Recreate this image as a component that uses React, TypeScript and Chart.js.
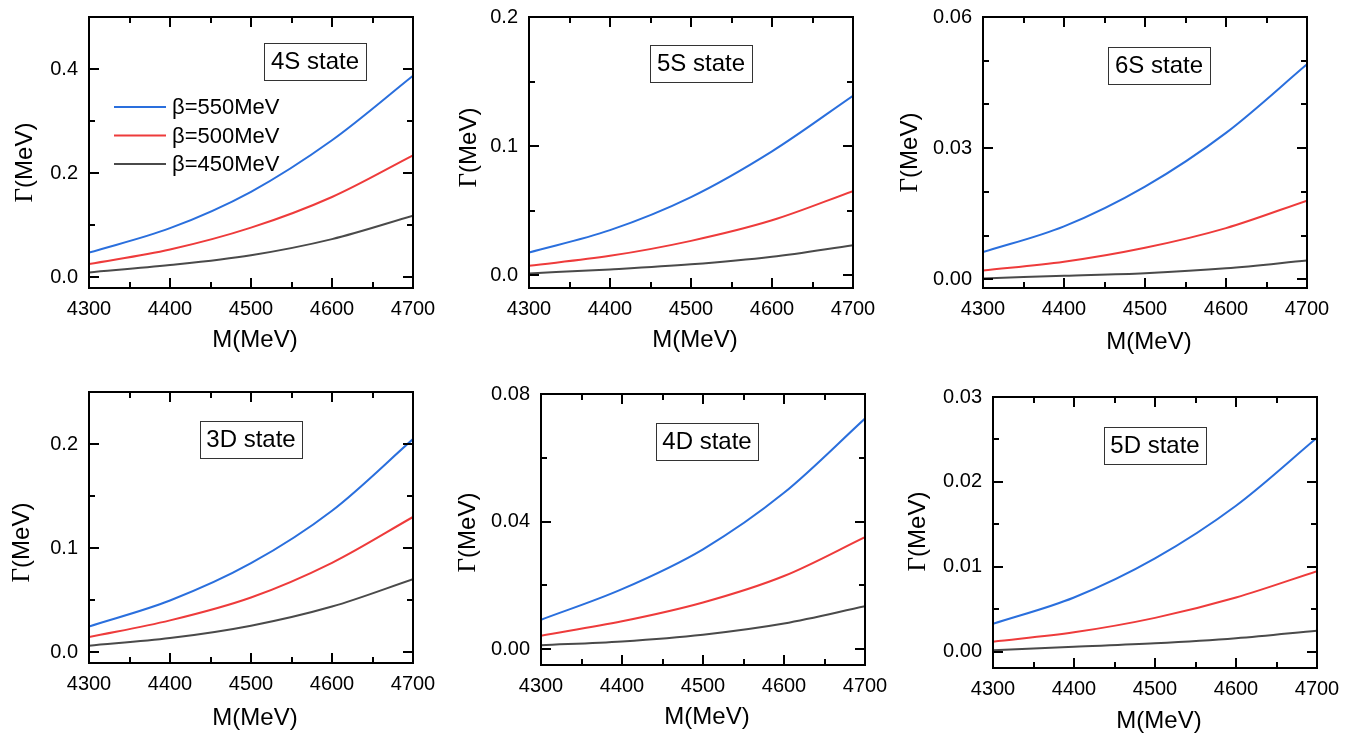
import React, { useEffect, useRef } from "react";
import { Chart, registerables } from "chart.js";

Chart.register(...registerables);

// ---------- data ----------
const masses = [4300, 4400, 4500, 4600, 4700];
const seriesLabels = ["β=550MeV", "β=500MeV", "β=450MeV"];
const stateLabels = ["4S state", "5S state", "6S state", "3D state", "4D state", "5D state"];
const xMajorTicks = [4300, 4400, 4500, 4600, 4700];
const xMinorTicks = [4350, 4450, 4550, 4650];

const s4_550 = [0.047, 0.094, 0.164, 0.263, 0.387];
const s4_500 = [0.025, 0.053, 0.095, 0.154, 0.234];
const s4_450 = [0.009, 0.023, 0.042, 0.073, 0.118];

const s5_550 = [0.0177, 0.035, 0.0606, 0.096, 0.139];
const s5_500 = [0.0074, 0.0151, 0.0267, 0.0426, 0.0652];
const s5_450 = [0.0015, 0.0046, 0.0085, 0.0144, 0.0234];

const s6_550 = [0.0062, 0.0121, 0.0212, 0.0335, 0.0492];
const s6_500 = [0.002, 0.004, 0.0072, 0.0117, 0.018];
const s6_450 = [0.0002, 0.0008, 0.0014, 0.0025, 0.0043];

const d3_550 = [0.0249, 0.0498, 0.0856, 0.136, 0.2048];
const d3_500 = [0.0147, 0.0307, 0.0527, 0.086, 0.13];
const d3_450 = [0.0064, 0.0137, 0.0256, 0.044, 0.0703];

const d4_550 = [0.0092, 0.0188, 0.0313, 0.049, 0.0723];
const d4_500 = [0.0042, 0.0087, 0.0146, 0.0229, 0.0351];
const d4_450 = [0.0012, 0.0024, 0.0045, 0.008, 0.0134];

const d5_550 = [0.0033, 0.0064, 0.011, 0.0172, 0.0252];
const d5_500 = [0.0012, 0.0023, 0.004, 0.0064, 0.0095];
const d5_450 = [0.0002, 0.0006, 0.001, 0.0016, 0.0025];

const yMajor4S = [0, 0.2, 0.4];
const yMinor4S = [0.1, 0.3];
const yMajor5S = [0, 0.1, 0.2];
const yMinor5S = [0.05, 0.15];
const yMajor6S = [0, 0.03, 0.06];
const yMinor6S = [0.01, 0.02, 0.04, 0.05];
const yMajor3D = [0, 0.1, 0.2];
const yMinor3D = [0.05, 0.15];
const yMajor4D = [0, 0.04, 0.08];
const yMinor4D = [0.02, 0.06];
const yMajor5D = [0, 0.01, 0.02, 0.03];
const yMinor5D = [0.005, 0.015, 0.025];

const yRange4S = [-0.021, 0.5];
const yRange5S = [-0.0098, 0.2];
const yRange6S = [-0.002, 0.06];
const yRange3D = [-0.0102, 0.25];
const yRange4D = [-0.005, 0.08];
const yRange5D = [-0.0019, 0.03];

const yDecimals = [1, 1, 2, 1, 2, 2];

// ---------- styles / layout ----------
const COLORS = ["#2a6fdd", "#ee3b3b", "#4a4a4a"];
const SANS = "'Liberation Sans', Arial, sans-serif";
const SERIF = "'Liberation Serif', 'Times New Roman', serif";
const PLOT_W = 324;
const PLOT_H = 271;
const AXIS_W = 90;
const PAD_TOP = 32;
const PAD_RIGHT = 40;
const AXIS_H = 70;
const CANVAS_W = AXIS_W + PLOT_W + PAD_RIGHT;
const CANVAS_H = PAD_TOP + PLOT_H + AXIS_H;

// frame (plot area) placement and decoration offsets for each panel
const layouts = [
  { left: 89, top: 17, yTitleDx: -64, yTitleDy: 10, xTitleDy: 52, boxCx: 226, boxCy: 44 },
  { left: 529, top: 17, yTitleDx: -60, yTitleDy: -5, xTitleDy: 52, boxCx: 172, boxCy: 46 },
  { left: 983, top: 17, yTitleDx: -73, yTitleDy: 0, xTitleDy: 54, boxCx: 176, boxCy: 48 },
  { left: 89, top: 392, yTitleDx: -67, yTitleDy: 15, xTitleDy: 55, boxCx: 162, boxCy: 47 },
  { left: 541, top: 394, yTitleDx: -73, yTitleDy: 3, xTitleDy: 52, boxCx: 166, boxCy: 47 },
  { left: 993, top: 397, yTitleDx: -75, yTitleDy: -1, xTitleDy: 53, boxCx: 162, boxCy: 48 },
];

const panelSeries = [
  [s4_550, s4_500, s4_450],
  [s5_550, s5_500, s5_450],
  [s6_550, s6_500, s6_450],
  [d3_550, d3_500, d3_450],
  [d4_550, d4_500, d4_450],
  [d5_550, d5_500, d5_450],
];
const panelYMajor = [yMajor4S, yMajor5S, yMajor6S, yMajor3D, yMajor4D, yMajor5D];
const panelYMinor = [yMinor4S, yMinor5S, yMinor6S, yMinor3D, yMinor4D, yMinor5D];
const panelYRange = [yRange4S, yRange5S, yRange6S, yRange3D, yRange4D, yRange5D];

function makeDecor(idx: number) {
  const lay = layouts[idx];
  return {
    id: "decor" + idx,
    afterDraw(chart: any) {
      const { ctx, chartArea: a, scales } = chart;
      const xs = scales.x;
      const ys = scales.y;
      ctx.save();
      ctx.strokeStyle = "#000";
      ctx.lineWidth = 2;
      ctx.lineCap = "butt";
      const line = (x1: number, y1: number, x2: number, y2: number) => {
        ctx.beginPath();
        ctx.moveTo(x1, y1);
        ctx.lineTo(x2, y2);
        ctx.stroke();
      };
      const xt = (vals: number[], len: number) => {
        vals.forEach((v) => {
          const px = Math.round(xs.getPixelForValue(v));
          line(px, a.bottom, px, a.bottom - len);
          line(px, a.top, px, a.top + len);
        });
      };
      const yt = (vals: number[], len: number) => {
        vals.forEach((v) => {
          const py = Math.round(ys.getPixelForValue(v));
          line(a.left, py, a.left + len, py);
          line(a.right, py, a.right - len, py);
        });
      };
      xt(xMajorTicks, 10);
      xt(xMinorTicks, 6);
      yt(panelYMajor[idx], 10);
      yt(panelYMinor[idx], 6);
      ctx.strokeRect(a.left, a.top, a.right - a.left, a.bottom - a.top);

      // x title
      ctx.fillStyle = "#000";
      ctx.font = `24px ${SANS}`;
      ctx.textAlign = "center";
      ctx.textBaseline = "middle";
      ctx.fillText("M(MeV)", (a.left + a.right) / 2 + 4, a.bottom + lay.xTitleDy);

      // y title (rotated) : serif Gamma + sans (MeV)
      ctx.save();
      ctx.translate(a.left + lay.yTitleDx, (a.top + a.bottom) / 2 + lay.yTitleDy);
      ctx.rotate(-Math.PI / 2);
      ctx.textAlign = "left";
      ctx.font = `25px ${SERIF}`;
      const gw = ctx.measureText("Γ").width;
      ctx.font = `24px ${SANS}`;
      const mw = ctx.measureText("(MeV)").width;
      const start = -(gw + mw) / 2;
      ctx.font = `25px ${SERIF}`;
      ctx.fillText("Γ", start, 0);
      ctx.font = `24px ${SANS}`;
      ctx.fillText("(MeV)", start + gw, 0);
      ctx.restore();

      // state label box
      const bx = a.left + lay.boxCx;
      const by = a.top + lay.boxCy;
      const bw = 102;
      const bh = 37;
      ctx.fillStyle = "#fff";
      ctx.fillRect(bx - bw / 2, by - bh / 2, bw, bh);
      ctx.strokeStyle = "#333";
      ctx.lineWidth = 1;
      ctx.strokeRect(Math.round(bx - bw / 2) + 0.5, Math.round(by - bh / 2) + 0.5, bw, bh);
      ctx.fillStyle = "#000";
      ctx.font = `24px ${SANS}`;
      ctx.textAlign = "center";
      ctx.fillText(stateLabels[idx], bx, by + 1);

      // legend (first panel only)
      if (idx === 0) {
        chart.data.datasets.forEach((ds: any, i: number) => {
          const ly = a.top + 90 + i * 28.5;
          ctx.strokeStyle = ds.borderColor;
          ctx.lineWidth = 2;
          line(a.left + 25, ly, a.left + 77, ly);
          ctx.fillStyle = "#000";
          ctx.font = `22px ${SANS}`;
          ctx.textAlign = "left";
          ctx.fillText(ds.label, a.left + 83, ly + 1);
        });
      }
      ctx.restore();
    },
  };
}

function Panel({ idx }: { idx: number }) {
  const ref = useRef<HTMLCanvasElement | null>(null);
  const lay = layouts[idx];
  useEffect(() => {
    if (!ref.current) return;
    const series = panelSeries[idx];
    const yr = panelYRange[idx];
    const majors = panelYMajor[idx];
    const dec = yDecimals[idx];
    const chart = new Chart(ref.current, {
      type: "line",
      data: {
        datasets: series.map((vals, i) => ({
          label: seriesLabels[i],
          data: masses.map((m, j) => ({ x: m, y: vals[j] })),
          borderColor: COLORS[i],
          backgroundColor: COLORS[i],
          borderWidth: 2,
          pointRadius: 0,
          fill: false,
          cubicInterpolationMode: "monotone" as const,
        })),
      },
      options: {
        responsive: false,
        animation: false,
        devicePixelRatio: 1,
        layout: { padding: { top: PAD_TOP, right: PAD_RIGHT, left: 0, bottom: 0 } },
        plugins: { legend: { display: false }, tooltip: { enabled: false }, title: { display: false } },
        scales: {
          x: {
            type: "linear",
            min: 4300,
            max: 4700,
            grid: { display: false, drawTicks: false },
            border: { display: false },
            afterFit: (s: any) => {
              s.height = AXIS_H;
            },
            afterBuildTicks: (s: any) => {
              s.ticks = xMajorTicks.map((v) => ({ value: v }));
            },
            ticks: {
              padding: 9,
              color: "#000",
              font: { family: SANS, size: 20 },
              maxRotation: 0,
              autoSkip: false,
              callback: (v: any) => String(v),
            },
          },
          y: {
            type: "linear",
            min: yr[0],
            max: yr[1],
            grid: { display: false, drawTicks: false },
            border: { display: false },
            afterFit: (s: any) => {
              s.width = AXIS_W;
            },
            afterBuildTicks: (s: any) => {
              s.ticks = majors.map((v) => ({ value: v }));
            },
            ticks: {
              padding: 11,
              color: "#000",
              font: { family: SANS, size: 20 },
              autoSkip: false,
              callback: (v: any) => Number(v).toFixed(dec),
            },
          },
        },
      },
      plugins: [makeDecor(idx)],
    });
    return () => chart.destroy();
  }, [idx]);
  return (
    <canvas
      ref={ref}
      width={CANVAS_W}
      height={CANVAS_H}
      style={{
        position: "absolute",
        left: lay.left - AXIS_W,
        top: lay.top - PAD_TOP,
        width: CANVAS_W,
        height: CANVAS_H,
      }}
    />
  );
}

export default function App() {
  return (
    <div
      style={{
        position: "absolute",
        left: 0,
        top: 0,
        width: 1364,
        height: 738,
        background: "#fff",
        overflow: "hidden",
      }}
    >
      {layouts.map((_, i) => (
        <Panel key={i} idx={i} />
      ))}
    </div>
  );
}
